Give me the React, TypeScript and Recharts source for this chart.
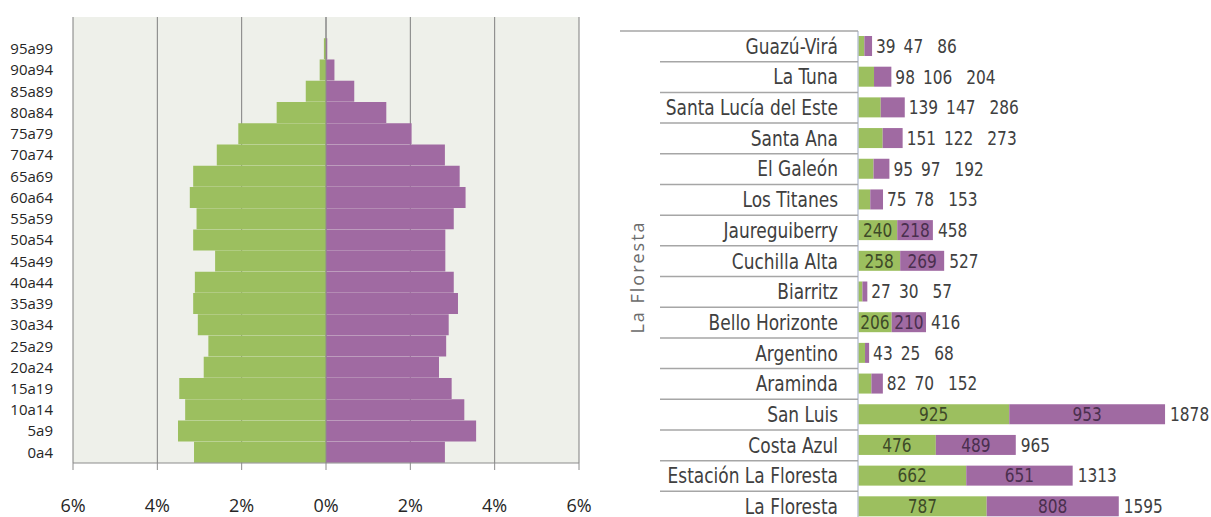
import React from "react";
import { BarChart, Bar, XAxis, YAxis, CartesianGrid, ReferenceLine } from "recharts";

// pirámide por edades (% de la población), de abajo hacia arriba
const ageGroups = [
  "0a4", "5a9", "10a14", "15a19", "20a24", "25a29", "30a34", "35a39", "40a44", "45a49",
  "50a54", "55a59", "60a64", "65a69", "70a74", "75a79", "80a84", "85a89", "90a94", "95a99", "",
];
const menShare = [
  3.13, 3.51, 3.34, 3.48, 2.9, 2.79, 3.04, 3.15, 3.11, 2.63,
  3.15, 3.07, 3.23, 3.15, 2.59, 2.08, 1.17, 0.48, 0.15, 0.05, 0,
];
const womenShare = [
  2.82, 3.56, 3.28, 2.98, 2.68, 2.85, 2.91, 3.13, 3.03, 2.83,
  2.83, 3.03, 3.31, 3.17, 2.82, 2.03, 1.43, 0.67, 0.2, 0.03, 0,
];
const pctTicks = [-6, -4, -2, 0, 2, 4, 6];

// localidades de La Floresta
const localities = [
  "Guazú-Virá", "La Tuna", "Santa Lucía del Este", "Santa Ana", "El Galeón", "Los Titanes",
  "Jaureguiberry", "Cuchilla Alta", "Biarritz", "Bello Horizonte", "Argentino", "Araminda",
  "San Luis", "Costa Azul", "Estación La Floresta", "La Floresta",
];
const localityMen = [39, 98, 139, 151, 95, 75, 240, 258, 27, 206, 43, 82, 925, 476, 662, 787];
const localityWomen = [47, 106, 147, 122, 97, 78, 218, 269, 30, 210, 25, 70, 953, 489, 651, 808];
const localityTotal = [86, 204, 286, 273, 192, 153, 458, 527, 57, 416, 68, 152, 1878, 965, 1313, 1595];

const GREEN = "#9CBF5F";
const PURPLE = "#A06AA2";
const TEXT = "#404040";
const NARROW = "'Liberation Sans Narrow', 'DejaVu Sans Condensed', sans-serif";
const SANS = "'Open Sans', 'Liberation Sans', sans-serif";

const pyramidData = ageGroups.map((age, i) => ({ age, men: -menShare[i], women: womenShare[i] }));
const localityData = localities.map((name, i) => ({
  name,
  men: localityMen[i],
  women: localityWomen[i],
  total: localityTotal[i],
}));

const NUM_SIZE = 19;
const NUM_SX = 0.9;
const INSIDE_MIN = 30;
const textW = (v: number) => String(v).length * NUM_SIZE * 0.572 * NUM_SX;

// horizontally condensed svg text
function Cond({ x, y, anchor = "start", size, sx, fill = TEXT, children }: any) {
  return (
    <text
      transform={`translate(${x},${y}) scale(${sx},1)`}
      textAnchor={anchor}
      dominantBaseline="central"
      style={{ fontFamily: NARROW, fontSize: size, fill }}
    >
      {children}
    </text>
  );
}

function MenBar(props: any) {
  const { x, y, width, height, payload } = props;
  return (
    <g>
      <rect x={x} y={y} width={width} height={height} fill={GREEN} />
      {width >= INSIDE_MIN && (
        <Cond x={x + width / 2} y={y + height / 2} anchor="middle" size={NUM_SIZE} sx={NUM_SX} fill="#3E4A28">
          {payload.men}
        </Cond>
      )}
    </g>
  );
}

function WomenBar(props: any) {
  const { x, y, width, height, payload } = props;
  const menW = payload.women ? (width * payload.men) / payload.women : 0;
  const end = x + width;
  const cy = y + height / 2;
  let labels: React.ReactNode;
  if (menW >= INSIDE_MIN) {
    labels = (
      <>
        <Cond x={x + width / 2} y={cy} anchor="middle" size={NUM_SIZE} sx={NUM_SX} fill="#4A2F4E">
          {payload.women}
        </Cond>
        <Cond x={end + 5} y={cy} size={NUM_SIZE} sx={NUM_SX}>{payload.total}</Cond>
      </>
    );
  } else {
    const x1 = end + 4;
    const x2 = x1 + textW(payload.men) + 8;
    const x3 = x2 + textW(payload.women) + 14;
    labels = (
      <>
        <Cond x={x1} y={cy} size={NUM_SIZE} sx={NUM_SX}>{payload.men}</Cond>
        <Cond x={x2} y={cy} size={NUM_SIZE} sx={NUM_SX}>{payload.women}</Cond>
        <Cond x={x3} y={cy} size={NUM_SIZE} sx={NUM_SX}>{payload.total}</Cond>
      </>
    );
  }
  return (
    <g>
      <rect x={x} y={y} width={width} height={height} fill={PURPLE} />
      {labels}
    </g>
  );
}

function PlaceTick(props: any) {
  const { x, y, payload, index } = props;
  const half = payload?.offset ?? 15.35;
  const last = index === localities.length - 1;
  return (
    <g>
      <line x1={x - (index === 0 ? 218 : 178)} x2={x + 20} y1={y - half} y2={y - half} stroke="#A6A6A6" strokeWidth={1.5} />
      {last && (
        <line x1={x - 218} x2={x + 20} y1={y + half} y2={y + half} stroke="#A6A6A6" strokeWidth={1.5} />
      )}
      <Cond x={x} y={y} anchor="end" size={21} sx={0.9}>
        {payload.value}
      </Cond>
    </g>
  );
}

export default function App() {
  return (
    <div style={{ position: "absolute", left: 0, top: 0, width: 1211, height: 517, overflow: "hidden", background: "#fff", fontFamily: SANS }}>
      <div style={{ position: "absolute", left: 0, top: 0 }}>
        <BarChart
          width={600}
          height={517}
          data={pyramidData}
          layout="vertical"
          stackOffset="sign"
          barCategoryGap={0}
          margin={{ top: 17, right: 21, bottom: 0, left: 0 }}
        >
          <CartesianGrid horizontal={false} stroke="#7F7F7F" fill="#EEF0EA" />
          <XAxis
            type="number"
            domain={[-6, 6]}
            ticks={pctTicks}
            allowDataOverflow
            tickFormatter={(v: number) => `${Math.abs(v)}%`}
            height={54}
            tickSize={7}
            tickMargin={29}
            stroke="#8C8C8C"
            tick={{ fontFamily: SANS, fontSize: 18, fill: "#262626" }}
          />
          <YAxis
            type="category"
            dataKey="age"
            reversed
            width={73}
            interval={0}
            axisLine={false}
            tickLine={false}
            tickSize={0}
            tickMargin={20}
            tick={{ fontFamily: SANS, fontSize: 15, fill: "#262626" }}
          />
          <Bar dataKey="men" stackId="p" fill={GREEN} isAnimationActive={false} />
          <Bar dataKey="women" stackId="p" fill={PURPLE} isAnimationActive={false} />
          <ReferenceLine x={0} stroke="#8C8C8C" />
        </BarChart>
      </div>

      <div style={{ position: "absolute", left: 600, top: 0 }}>
        <BarChart
          width={611}
          height={540}
          data={localityData}
          layout="vertical"
          barSize={20}
          margin={{ top: 31, right: 26, bottom: 18, left: 0 }}
        >
          <XAxis type="number" domain={[0, 2000]} hide />
          <YAxis
            type="category"
            dataKey="name"
            width={258}
            interval={0}
            tickLine={false}
            tickSize={0}
            tickMargin={20}
            axisLine={{ stroke: "#BCC5D6", strokeWidth: 1.5 }}
            tick={<PlaceTick />}
          />
          <Bar dataKey="men" stackId="l" fill={GREEN} shape={<MenBar />} isAnimationActive={false} />
          <Bar dataKey="women" stackId="l" fill={PURPLE} shape={<WomenBar />} isAnimationActive={false} />
        </BarChart>
      </div>

      <div
        style={{
          position: "absolute",
          left: 637,
          top: 277,
          transform: "translate(-50%, -50%) rotate(-90deg)",
          whiteSpace: "nowrap",
          fontFamily: SANS,
          fontSize: 18,
          letterSpacing: 2,
          color: "#6B6B6B",
        }}
      >
        La Floresta
      </div>
    </div>
  );
}
